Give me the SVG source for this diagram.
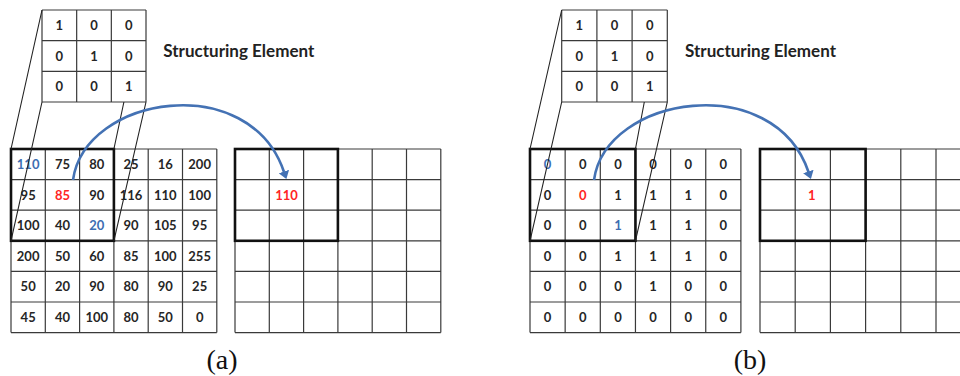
<svg xmlns="http://www.w3.org/2000/svg" width="960" height="376" viewBox="0 0 960 376">
<style>
.g{fill:none;stroke:#3a3a3a;stroke-width:1.2}
.w{fill:none;stroke:#111;stroke-width:2.6}
.p{fill:none;stroke:#222;stroke-width:1.1}
.n{font-family:Lato,"Liberation Sans",sans-serif;font-weight:bold;font-size:13px;fill:#262626;text-anchor:middle}
.r{fill:#ff2424}
.b{fill:#3d6db2}
.t{font-family:Lato,"Liberation Sans",sans-serif;font-weight:bold;font-size:16.5px;fill:#222}
.c{font-family:"Liberation Serif",serif;font-size:28px;fill:#111;text-anchor:middle}
.a{fill:none;stroke:#4472b4;stroke-width:2.6}
</style>
<defs>
<marker id="ah" markerUnits="userSpaceOnUse" viewBox="0 0 8 11" refX="0.5" refY="5.5" markerWidth="8" markerHeight="11" orient="auto">
<path d="M0,0L8,5.5L0,11z" fill="#4472b4"/>
</marker>
</defs>
<rect width="960" height="376" fill="#fff"/>

<!-- Panel (a) -->
<g id="se-a">
<rect x="42" y="10" width="104" height="92" fill="#fff"/>
<path class="g" d="M42,10H146M42,40.67H146M42,71.33H146M42,102H146M42,10V102M76.67,10V102M111.33,10V102M146,10V102"/>
<text class="n" x="59.3" y="30">1</text><text class="n" x="94" y="30">0</text><text class="n" x="128.7" y="30">0</text>
<text class="n" x="59.3" y="60.7">0</text><text class="n" x="94" y="60.7">1</text><text class="n" x="128.7" y="60.7">0</text>
<text class="n" x="59.3" y="91.4">0</text><text class="n" x="94" y="91.4">0</text><text class="n" x="128.7" y="91.4">1</text>
</g>
<g id="label-a">
<text class="t" x="163.3" y="56.7" textLength="151" lengthAdjust="spacingAndGlyphs">Structuring Element</text>
</g>
<g id="input-a">
<path class="g" d="M11,149H216.8M11,179.6H216.8M11,210.2H216.8M11,240.8H216.8M11,271.4H216.8M11,302H216.8M11,332.6H216.8M11,149V332.6M45.3,149V332.6M79.6,149V332.6M113.9,149V332.6M148.2,149V332.6M182.5,149V332.6M216.8,149V332.6"/>
<rect class="w" x="11" y="149" width="102.9" height="91.8"/>
<g class="n">
<text x="28.15" y="169" class="b">110</text><text x="62.45" y="169">75</text><text x="96.75" y="169">80</text><text x="131.05" y="169">25</text><text x="165.35" y="169">16</text><text x="199.65" y="169">200</text>
<text x="28.15" y="199.6">95</text><text x="62.45" y="199.6" class="r">85</text><text x="96.75" y="199.6">90</text><text x="131.05" y="199.6">116</text><text x="165.35" y="199.6">110</text><text x="199.65" y="199.6">100</text>
<text x="28.15" y="230.2">100</text><text x="62.45" y="230.2">40</text><text x="96.75" y="230.2" class="b">20</text><text x="131.05" y="230.2">90</text><text x="165.35" y="230.2">105</text><text x="199.65" y="230.2">95</text>
<text x="28.15" y="260.8">200</text><text x="62.45" y="260.8">50</text><text x="96.75" y="260.8">60</text><text x="131.05" y="260.8">85</text><text x="165.35" y="260.8">100</text><text x="199.65" y="260.8">255</text>
<text x="28.15" y="291.4">50</text><text x="62.45" y="291.4">20</text><text x="96.75" y="291.4">90</text><text x="131.05" y="291.4">80</text><text x="165.35" y="291.4">90</text><text x="199.65" y="291.4">25</text>
<text x="28.15" y="322">45</text><text x="62.45" y="322">40</text><text x="96.75" y="322">100</text><text x="131.05" y="322">80</text><text x="165.35" y="322">50</text><text x="199.65" y="322">0</text>
</g>
</g>
<g id="output-a">
<path class="g" d="M235,149H440.8M235,179.6H440.8M235,210.2H440.8M235,240.8H440.8M235,271.4H440.8M235,302H440.8M235,332.6H440.8M235,149V332.6M269.3,149V332.6M303.6,149V332.6M337.9,149V332.6M372.2,149V332.6M406.5,149V332.6M440.8,149V332.6"/>
<rect class="w" x="235" y="149" width="102.9" height="91.8"/>
<text class="n r" x="286.5" y="200.3">110</text>
</g>
<g id="caption-a">
<text class="c" x="222" y="369">(a)</text>
</g>

<!-- Panel (b) -->
<g id="se-b">
<rect x="561.7" y="10" width="105.6" height="92" fill="#fff"/>
<path class="g" d="M561.7,10H667.3M561.7,40.67H667.3M561.7,71.33H667.3M561.7,102H667.3M561.7,10V102M596.9,10V102M632.1,10V102M667.3,10V102"/>
<text class="n" x="579.3" y="30">1</text><text class="n" x="614.5" y="30">0</text><text class="n" x="649.7" y="30">0</text>
<text class="n" x="579.3" y="60.7">0</text><text class="n" x="614.5" y="60.7">1</text><text class="n" x="649.7" y="60.7">0</text>
<text class="n" x="579.3" y="91.4">0</text><text class="n" x="614.5" y="91.4">0</text><text class="n" x="649.7" y="91.4">1</text>
</g>
<g id="label-b">
<text class="t" x="685" y="56.7" textLength="151" lengthAdjust="spacingAndGlyphs">Structuring Element</text>
</g>
<g id="input-b">
<path class="g" d="M530,149H740.9M530,179.6H740.9M530,210.2H740.9M530,240.8H740.9M530,271.4H740.9M530,302H740.9M530,332.6H740.9M530,149V332.6M565.15,149V332.6M600.3,149V332.6M635.45,149V332.6M670.6,149V332.6M705.75,149V332.6M740.9,149V332.6"/>
<rect class="w" x="530" y="149" width="105.45" height="91.8"/>
<g class="n">
<text x="547.6" y="169" class="b">0</text><text x="582.7" y="169">0</text><text x="617.9" y="169">0</text><text x="653" y="169">0</text><text x="688.2" y="169">0</text><text x="723.3" y="169">0</text>
<text x="547.6" y="199.6">0</text><text x="582.7" y="199.6" class="r">0</text><text x="617.9" y="199.6">1</text><text x="653" y="199.6">1</text><text x="688.2" y="199.6">1</text><text x="723.3" y="199.6">0</text>
<text x="547.6" y="230.2">0</text><text x="582.7" y="230.2">0</text><text x="617.9" y="230.2" class="b">1</text><text x="653" y="230.2">1</text><text x="688.2" y="230.2">1</text><text x="723.3" y="230.2">0</text>
<text x="547.6" y="260.8">0</text><text x="582.7" y="260.8">0</text><text x="617.9" y="260.8">1</text><text x="653" y="260.8">1</text><text x="688.2" y="260.8">1</text><text x="723.3" y="260.8">0</text>
<text x="547.6" y="291.4">0</text><text x="582.7" y="291.4">0</text><text x="617.9" y="291.4">0</text><text x="653" y="291.4">1</text><text x="688.2" y="291.4">0</text><text x="723.3" y="291.4">0</text>
<text x="547.6" y="322">0</text><text x="582.7" y="322">0</text><text x="617.9" y="322">0</text><text x="653" y="322">0</text><text x="688.2" y="322">0</text><text x="723.3" y="322">0</text>
</g>
</g>
<g id="output-b">
<path class="g" d="M760,149H972M760,179.6H972M760,210.2H972M760,240.8H972M760,271.4H972M760,302H972M760,332.6H972M760,149V332.6M795.2,149V332.6M830.4,149V332.6M865.6,149V332.6M900.8,149V332.6M936,149V332.6M971.2,149V332.6"/>
<rect class="w" x="760" y="149" width="105.6" height="91.8"/>
<text class="n r" x="811.7" y="200.3">1</text>
</g>
<g id="caption-b">
<text class="c" x="750" y="369">(b)</text>
</g>

<!-- Connectors -->
<g id="connectors">
<path class="p" d="M42,10L11,149M42,102L11,240.8M123.9,102L113.9,149M146,102L113.9,240.8"/>
<path class="p" d="M561.7,10L530,149M561.7,102L530,240.8M644.3,102L635.45,149M667.3,102L635.45,240.8"/>
<path class="a" d="M73,180C85,95 250,70 284,172" marker-end="url(#ah)"/>
<path class="a" d="M594,180C606,95 774,70 808.5,172" marker-end="url(#ah)"/>
</g>
</svg>
